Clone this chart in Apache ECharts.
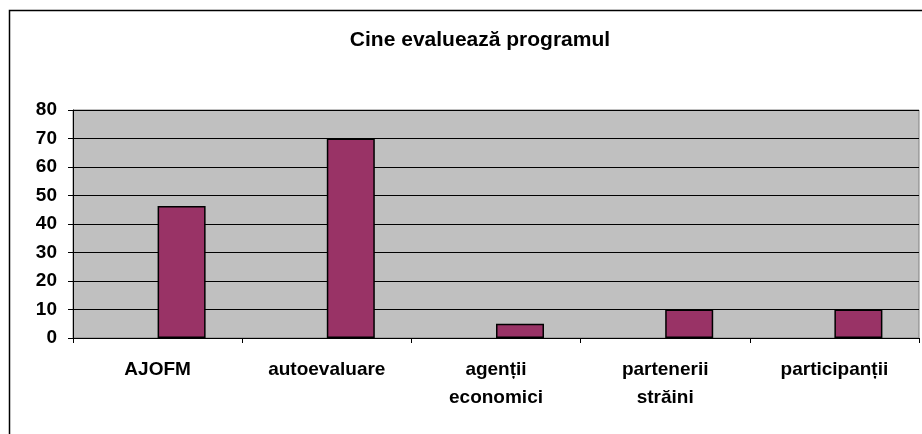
<!DOCTYPE html>
<html lang="ro">
<head>
    <meta charset="UTF-8">
    <title>Cine evaluează programul</title>
    <script src="https://cdn.jsdelivr.net/npm/echarts@6/dist/echarts.min.js"></script>
    <style>
        html, body { margin: 0; padding: 0; background: #ffffff; }
        #container { width: 922px; height: 434px; }
    </style>
</head>
<body>
<div id="container"></div>
<script>
    // date
    var categories = ['AJOFM', 'autoevaluare', 'agenții\neconomici', 'partenerii\nstrăini', 'participanții'];
    var values = [46.3, 70, 5, 10, 10];
    var emptySeries = [null, null, null, null, null];
    var yTicks = [0, 10, 20, 30, 40, 50, 60, 70, 80];

    var font = '"Liberation Sans", Arial, sans-serif';
    var chart = echarts.init(document.getElementById('container'));

    var option = {
        backgroundColor: '#ffffff',
        animation: false,
        title: {
            text: 'Cine evaluează programul',
            left: 475,
            top: 25,
            textAlign: 'center',
            textStyle: {
                fontFamily: font,
                fontSize: 21,
                fontWeight: 'bold',
                color: '#000'
            }
        },
        graphic: [{
            type: 'rect',
            shape: { x: 9.5, y: 10.5, width: 1000, height: 600 },
            style: { fill: 'none', stroke: '#000', lineWidth: 1.5 },
            silent: true
        }],
        grid: {
            left: 73,
            right: 3,
            top: 110,
            bottom: 96,
            show: true,
            backgroundColor: '#c0c0c0',
            borderColor: '#808080',
            borderWidth: 1
        },
        xAxis: {
            type: 'category',
            data: categories,
            axisLine: { lineStyle: { color: '#000', width: 1 } },
            axisTick: { show: true, length: 5, alignWithLabel: false, lineStyle: { color: '#000' } },
            axisLabel: {
                margin: 18,
                interval: 0,
                fontFamily: font,
                fontSize: 19,
                fontWeight: 'bold',
                color: '#000',
                lineHeight: 28
            }
        },
        yAxis: {
            type: 'value',
            min: yTicks[0],
            max: yTicks[yTicks.length - 1],
            interval: 10,
            axisLine: { show: true, lineStyle: { color: '#000', width: 1 } },
            axisTick: { show: true, length: 5, lineStyle: { color: '#000' } },
            splitLine: { show: true, lineStyle: { color: '#000', width: 1 } },
            axisLabel: {
                margin: 16,
                fontFamily: font,
                fontSize: 19,
                fontWeight: 'bold',
                color: '#000'
            }
        },
        series: [{
            type: 'bar',
            data: emptySeries,
            barWidth: 48,
            barGap: '0%'
        }, {
            type: 'bar',
            data: values,
            barWidth: 48,
            barGap: '0%',
            itemStyle: {
                color: '#993366',
                borderColor: '#000',
                borderWidth: 1.5
            }
        }]
    };

    chart.setOption(option);
</script>
</body>
</html>
